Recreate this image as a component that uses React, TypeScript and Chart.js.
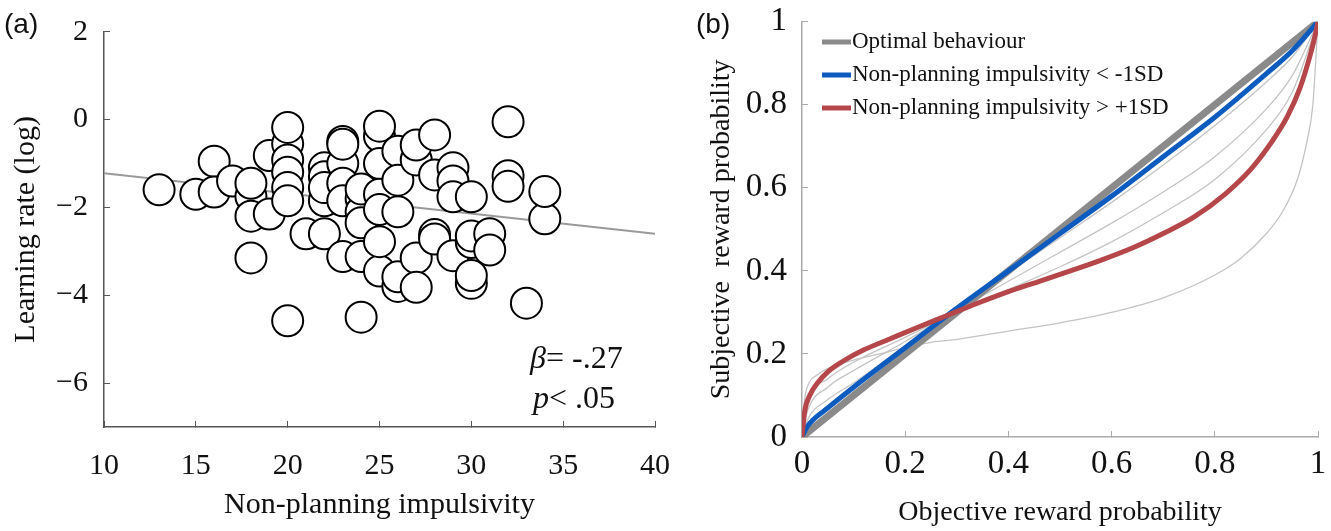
import React, { useEffect, useRef } from "react";
import { Chart, registerables } from "chart.js";

Chart.register(...registerables);

const SERIF = '"Liberation Serif", "Times New Roman", serif';
const SANS = '"Liberation Sans", Arial, sans-serif';

// ---------- Panel (a) data ----------
const impulsivity = [
  13, 15, 16, 16, 17, 18, 18, 18, 18, 19, 19,
  20, 20, 20, 20, 20, 20, 20, 21,
  22, 22, 22, 22, 22,
  23, 23, 23, 23, 23, 23,
  24, 24, 24, 24, 24, 24,
  25, 25, 25, 25, 25, 25, 25,
  26, 26, 26, 26, 26,
  27, 27, 27, 27,
  28, 28, 28, 28,
  29, 29, 29, 29,
  30, 30, 30, 30, 30,
  31, 31, 32, 32, 32, 33, 34, 34,
];
const learningRate = [
  -1.6, -1.7, -0.95, -1.65, -1.4, -1.75, -2.2, -3.15, -1.45, -2.15, -0.82,
  -0.55, -0.92, -1.2, -1.55, -4.58, -0.18, -1.85, -2.6,
  -1.1, -1.3, -1.85, -2.6, -1.55,
  -0.5, -1.0, -1.45, -1.85, -3.12, -0.56,
  -1.8, -2.1, -2.35, -3.12, -4.5, -1.58,
  -0.38, -1.0, -1.7, -2.05, -3.45, -2.78, -0.15,
  -0.72, -1.38, -3.8, -3.58, -2.1,
  -0.92, -3.15, -0.58, -3.82,
  -0.35, -1.26, -2.62, -2.72,
  -1.1, -1.4, -3.1, -1.76,
  -2.8, -3.73, -3.55, -2.65, -1.76,
  -2.6, -2.97, -1.28, -1.52, -0.05, -4.18, -2.26, -1.64,
];
const regressionX = [10, 40];
const regressionY = [-1.22, -2.6];
const xTicksA = [10, 15, 20, 25, 30, 35, 40];
const yTicksA = [-6, -4, -2, 0, 2];

// ---------- Panel (b) data ----------
const probTicks = [0, 0.2, 0.4, 0.6, 0.8, 1];
const optimalX = [0, 1];
const optimalY = [0, 1];
const lowImpX = [0, 0.01, 0.05, 0.1, 0.2, 0.3, 0.4, 0.5, 0.6, 0.7, 0.8, 0.9, 0.95, 1];
const lowImpY = [0, 0.025, 0.07, 0.12, 0.215, 0.31, 0.4, 0.49, 0.58, 0.675, 0.77, 0.875, 0.93, 1];
const highImpX = [0, 0.005, 0.015, 0.03, 0.05, 0.08, 0.12, 0.17, 0.22, 0.28, 0.34, 0.4, 0.46, 0.52, 0.58, 0.64, 0.7, 0.76, 0.82, 0.87, 0.91, 0.94, 0.965, 0.985, 0.995, 1];
const highImpY = [0, 0.06, 0.1, 0.13, 0.157, 0.183, 0.21, 0.236, 0.262, 0.292, 0.322, 0.35, 0.375, 0.4, 0.426, 0.455, 0.49, 0.53, 0.585, 0.645, 0.71, 0.77, 0.84, 0.92, 0.97, 1];
const indivX = [0, 0.01, 0.05, 0.1, 0.2, 0.3, 0.4, 0.5, 0.6, 0.7, 0.8, 0.9, 0.95, 1];
const indiv1Y = [0, 0.04, 0.09, 0.13, 0.22, 0.31, 0.395, 0.48, 0.565, 0.655, 0.75, 0.855, 0.915, 1];
const indiv2Y = [0, 0.06, 0.12, 0.16, 0.23, 0.305, 0.375, 0.445, 0.515, 0.59, 0.675, 0.79, 0.87, 1];
const indiv3Y = [0, 0.08, 0.14, 0.18, 0.24, 0.3, 0.355, 0.41, 0.47, 0.54, 0.62, 0.74, 0.83, 1];
const extremeX = [0, 0.005, 0.01, 0.03, 0.06, 0.1, 0.15, 0.2, 0.25, 0.3, 0.4, 0.5, 0.6, 0.7, 0.8, 0.85, 0.9, 0.93, 0.96, 0.98, 0.99, 1];
const extremeY = [0, 0.09, 0.12, 0.15, 0.17, 0.185, 0.2, 0.215, 0.228, 0.235, 0.255, 0.275, 0.3, 0.335, 0.39, 0.43, 0.49, 0.54, 0.62, 0.72, 0.8, 1];

const legendLabels = [
  "Optimal behaviour",
  "Non-planning impulsivity < -1SD",
  "Non-planning impulsivity > +1SD",
];
const legendColors = ["#8a8a8a", "#0d5bbf", "#b5474b"];

const pts = (xs: number[], ys: number[]) => xs.map((x, i) => ({ x, y: ys[i] }));
const fmtNum = (v: number) => (v < 0 ? "\u2212" + Math.abs(v) : String(v));
const noPad = (s: any) => {
  s.paddingTop = 0;
  s.paddingBottom = 0;
  s.paddingLeft = 0;
  s.paddingRight = 0;
};

function ScatterPanel() {
  const ref = useRef<HTMLCanvasElement>(null);
  useEffect(() => {
    const chart = new Chart(ref.current!, {
      type: "scatter",
      data: {
        datasets: [
          {
            type: "scatter",
            label: "Participants",
            data: pts(impulsivity, learningRate),
            pointRadius: 15.5,
            pointBorderWidth: 2,
            pointBackgroundColor: "#ffffff",
            pointBorderColor: "#000000",
            order: 0,
          } as any,
          {
            type: "line",
            label: "Regression",
            data: pts(regressionX, regressionY),
            borderColor: "#9a9a9a",
            borderWidth: 2,
            pointRadius: 0,
            showLine: true,
            order: 1,
          } as any,
        ],
      },
      options: {
        responsive: false,
        animation: false,
        layout: { padding: { top: 31.7, right: 35, left: 0, bottom: 0 } },
        plugins: { legend: { display: false }, tooltip: { enabled: false } },
        scales: {
          x: {
            type: "linear",
            min: 10,
            max: 40,
            afterBuildTicks: (s: any) => {
              s.ticks = xTicksA.map((v) => ({ value: v }));
            },
            afterFit: (s: any) => {
              s.height = 104;
              noPad(s);
            },
            grid: { drawOnChartArea: false, drawTicks: true, tickLength: -6, color: "#555" },
            border: { display: true, color: "#555", width: 1.5 },
            ticks: { font: { family: SERIF, size: 30 }, color: "#111", padding: 27, maxRotation: 0, callback: (v: any) => fmtNum(Number(v)) },
            title: { display: true, text: "Non-planning impulsivity", font: { family: SERIF, size: 30 }, color: "#111", padding: { bottom: 8, top: 0 } },
          },
          y: {
            type: "linear",
            min: -7,
            max: 2,
            afterBuildTicks: (s: any) => {
              s.ticks = yTicksA.map((v) => ({ value: v }));
            },
            afterFit: (s: any) => {
              s.width = 104;
              noPad(s);
            },
            grid: { drawOnChartArea: false, drawTicks: true, tickLength: -6, color: "#555" },
            border: { display: true, color: "#555", width: 1.5 },
            ticks: { font: { family: SERIF, size: 30 }, color: "#111", padding: 22, callback: (v: any) => fmtNum(Number(v)) },
            title: { display: true, text: "Learning rate (log)", font: { family: SERIF, size: 30 }, color: "#111", padding: { top: 8, bottom: 0 } },
          },
        },
      },
    });
    return () => chart.destroy();
  }, []);
  return <canvas ref={ref} width={690} height={531} style={{ position: "absolute", left: 0, top: 0 }} />;
}

const legendPlugin = {
  id: "insideLegend",
  afterDraw(chart: any) {
    const { ctx, chartArea } = chart;
    ctx.save();
    legendLabels.forEach((label, i) => {
      const y = 42 + i * 33;
      ctx.strokeStyle = legendColors[i];
      ctx.lineWidth = 5;
      ctx.beginPath();
      ctx.moveTo(chartArea.left + 20, y);
      ctx.lineTo(chartArea.left + 49, y);
      ctx.stroke();
      ctx.fillStyle = "#111";
      ctx.font = `23px ${SERIF}`;
      ctx.textBaseline = "middle";
      ctx.textAlign = "left";
      ctx.fillText(label, chartArea.left + 50, y);
    });
    ctx.restore();
  },
};

function CurvePanel() {
  const ref = useRef<HTMLCanvasElement>(null);
  useEffect(() => {
    const thin = (label: string, xs: number[], ys: number[]) => ({
      label,
      data: pts(xs, ys),
      borderColor: "#c4c4c4",
      borderWidth: 1.3,
      pointRadius: 0,
      cubicInterpolationMode: "monotone",
    });
    const chart = new Chart(ref.current!, {
      type: "line",
      data: {
        datasets: [
          { label: legendLabels[2], data: pts(highImpX, highImpY), borderColor: legendColors[2], borderWidth: 5, pointRadius: 0, cubicInterpolationMode: "monotone" } as any,
          { label: legendLabels[1], data: pts(lowImpX, lowImpY), borderColor: legendColors[1], borderWidth: 5, pointRadius: 0, cubicInterpolationMode: "monotone" } as any,
          { label: legendLabels[0], data: pts(optimalX, optimalY), borderColor: legendColors[0], borderWidth: 7, pointRadius: 0 } as any,
          thin("Individual 1", indivX, indiv1Y) as any,
          thin("Individual 2", indivX, indiv2Y) as any,
          thin("Individual 3", indivX, indiv3Y) as any,
          thin("Individual 4", extremeX, extremeY) as any,
        ],
      },
      options: {
        responsive: false,
        animation: false,
        layout: { padding: { top: 21.7, right: 13, left: 0, bottom: 0 } },
        plugins: { legend: { display: false }, tooltip: { enabled: false } },
        scales: {
          x: {
            type: "linear",
            min: 0,
            max: 1,
            afterBuildTicks: (s: any) => {
              s.ticks = probTicks.map((v) => ({ value: v }));
            },
            afterFit: (s: any) => {
              s.height = 94;
              noPad(s);
            },
            grid: { drawOnChartArea: false, drawTicks: true, tickLength: -6, color: "#aaa" },
            border: { display: true, color: "#aaa", width: 1.5 },
            ticks: { font: { family: SERIF, size: 33 }, color: "#111", padding: 14, maxRotation: 0, callback: (v: any) => String(Number(v)) },
            title: { display: true, text: "Objective reward probability", font: { family: SERIF, size: 28 }, color: "#111", padding: { bottom: 2, top: 0 } },
          },
          y: {
            type: "linear",
            min: 0,
            max: 1,
            afterBuildTicks: (s: any) => {
              s.ticks = probTicks.map((v) => ({ value: v }));
            },
            afterFit: (s: any) => {
              s.width = 112;
              noPad(s);
            },
            grid: { drawOnChartArea: false, drawTicks: true, tickLength: -6, color: "#aaa" },
            border: { display: true, color: "#aaa", width: 1.5 },
            ticks: { font: { family: SERIF, size: 33 }, color: "#111", padding: 21, callback: (v: any) => String(Number(v)) },
            title: { display: true, text: "Subjective  reward probability", font: { family: SERIF, size: 28 }, color: "#111", padding: { top: 15, bottom: 0 } },
          },
        },
      },
      plugins: [legendPlugin],
    });
    return () => chart.destroy();
  }, []);
  return <canvas ref={ref} width={641} height={531} style={{ position: "absolute", left: 690, top: 0 }} />;
}

export default function App() {
  const panelLabel: React.CSSProperties = { position: "absolute", fontFamily: SANS, fontSize: 28, color: "#111", lineHeight: "32px" };
  const stat: React.CSSProperties = { position: "absolute", fontFamily: SERIF, fontSize: 32, color: "#111", lineHeight: "36px", whiteSpace: "pre" };
  return (
    <div style={{ position: "absolute", left: 0, top: 0, width: 1331, height: 531, background: "#fff", overflow: "hidden" }}>
      <ScatterPanel />
      <CurvePanel />
      <div style={{ ...panelLabel, left: 4, top: 8 }}>(a)</div>
      <div style={{ ...panelLabel, left: 696, top: 8 }}>(b)</div>
      <div style={{ ...stat, left: 530, top: 339 }}>
        <i>β</i>= -.27
      </div>
      <div style={{ ...stat, left: 533, top: 379 }}>
        <i>p</i>&lt; .05
      </div>
    </div>
  );
}
